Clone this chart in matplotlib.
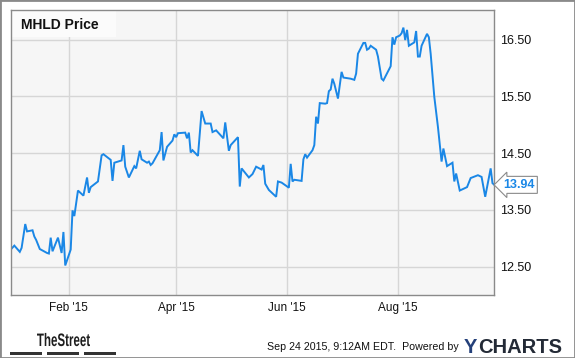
import numpy as np
import pandas as pd
import matplotlib
matplotlib.use("Agg")
import matplotlib.pyplot as plt
import matplotlib.dates as mdates
from matplotlib.patches import Rectangle, PathPatch
from matplotlib.textpath import TextPath
from matplotlib.font_manager import FontProperties
from matplotlib.transforms import Affine2D, IdentityTransform

plt.rcParams['font.family'] = ['Liberation Sans', 'DejaVu Sans']

# MHLD daily close
dates = [
    "2014-12-31", "2015-01-02", "2015-01-05", "2015-01-06", "2015-01-08", "2015-01-09",
    "2015-01-12", "2015-01-13", "2015-01-14", "2015-01-16", "2015-01-20", "2015-01-21",
    "2015-01-22", "2015-01-23", "2015-01-26", "2015-01-28", "2015-01-29", "2015-01-30",
    "2015-02-02", "2015-02-03", "2015-02-04", "2015-02-06", "2015-02-09", "2015-02-11",
    "2015-02-12", "2015-02-13", "2015-02-17", "2015-02-19", "2015-02-20", "2015-02-24",
    "2015-02-25", "2015-02-26", "2015-03-02", "2015-03-03", "2015-03-04", "2015-03-06",
    "2015-03-09", "2015-03-10", "2015-03-12", "2015-03-13", "2015-03-16", "2015-03-17",
    "2015-03-18", "2015-03-19", "2015-03-23", "2015-03-24", "2015-03-25", "2015-03-27",
    "2015-03-30", "2015-03-31", "2015-04-01", "2015-04-02", "2015-04-06", "2015-04-07",
    "2015-04-08", "2015-04-09", "2015-04-10", "2015-04-13", "2015-04-15", "2015-04-17",
    "2015-04-20", "2015-04-21", "2015-04-23", "2015-04-27", "2015-04-28", "2015-04-30",
    "2015-05-01", "2015-05-05", "2015-05-06", "2015-05-07", "2015-05-11", "2015-05-13",
    "2015-05-15", "2015-05-18", "2015-05-19", "2015-05-20", "2015-05-22", "2015-05-26",
    "2015-05-27", "2015-05-29", "2015-06-02", "2015-06-03", "2015-06-04", "2015-06-05",
    "2015-06-09", "2015-06-10", "2015-06-11", "2015-06-12", "2015-06-15", "2015-06-16",
    "2015-06-17", "2015-06-18", "2015-06-19", "2015-06-22", "2015-06-23", "2015-06-24",
    "2015-06-25", "2015-06-26", "2015-06-27", "2015-06-29", "2015-07-01", "2015-07-02",
    "2015-07-06", "2015-07-08", "2015-07-09", "2015-07-10", "2015-07-13", "2015-07-14",
    "2015-07-15", "2015-07-16", "2015-07-17", "2015-07-20", "2015-07-21", "2015-07-23",
    "2015-07-24", "2015-07-27", "2015-07-28", "2015-07-29", "2015-07-30", "2015-07-31",
    "2015-08-02", "2015-08-03", "2015-08-04", "2015-08-05", "2015-08-06", "2015-08-07",
    "2015-08-10", "2015-08-11", "2015-08-12", "2015-08-13", "2015-08-14", "2015-08-17",
    "2015-08-18", "2015-08-19", "2015-08-21", "2015-08-23", "2015-08-25", "2015-08-26",
    "2015-08-28", "2015-08-31", "2015-09-01", "2015-09-02", "2015-09-04", "2015-09-08",
    "2015-09-10", "2015-09-14", "2015-09-16", "2015-09-18", "2015-09-21", "2015-09-22",
    "2015-09-23",
]
prices = [
    12.80, 12.87, 12.76, 12.83, 13.25, 13.12,
    13.14, 13.03, 12.97, 12.81, 12.74, 12.73,
    13.01, 12.77, 13.01, 12.74, 13.11, 12.52,
    12.80, 13.49, 13.39, 13.84, 13.75, 14.07,
    13.80, 13.90, 14.00, 14.46, 14.48, 14.38,
    14.01, 14.33, 14.37, 14.64, 14.26, 14.07,
    14.27, 14.23, 14.54, 14.39, 14.33, 14.35,
    14.29, 14.32, 14.55, 14.87, 14.37, 14.61,
    14.72, 14.83, 14.78, 14.85, 14.86, 14.76,
    14.86, 14.51, 14.55, 14.45, 15.24, 15.02,
    15.02, 14.87, 14.90, 14.76, 15.04, 14.54,
    14.64, 14.78, 13.91, 14.23, 14.07, 14.13,
    14.26, 14.21, 14.29, 13.96, 13.85, 13.73,
    14.00, 13.98, 13.89, 14.31, 14.00, 14.03,
    14.01, 14.39, 14.48, 14.42, 14.55, 14.64,
    15.14, 15.02, 15.38, 15.37, 15.38, 15.59,
    15.62, 15.81, 15.72, 15.46, 15.93, 15.83,
    15.81, 15.79, 15.90, 16.25, 16.44, 16.44,
    16.32, 16.34, 16.39, 16.32, 16.20, 15.81,
    15.78, 15.97, 16.03, 16.54, 16.41, 16.54,
    16.57, 16.61, 16.71, 16.49, 16.67, 16.39,
    16.45, 16.65, 16.20, 16.20, 16.39, 16.60,
    16.54, 16.25, 15.49, 14.96, 14.35, 14.58,
    14.27, 14.33, 14.00, 14.14, 13.84, 13.90,
    14.06, 14.11, 14.08, 13.73, 14.23, 13.97,
    13.94,
]
yticks = [12.5, 13.5, 14.5, 15.5, 16.5]
xticks = ["2015-02-01", "2015-04-01", "2015-06-01", "2015-08-01"]

x = pd.to_datetime(dates)
blue = '#1a87e6'

fig = plt.figure(figsize=(5.75, 3.58), dpi=100)
fig.patch.set_facecolor('white')
ax = fig.add_axes([10.7/575, 1-295/358, (494.3-10.7)/575, (295-10)/358])
ax.set_facecolor('#f6f6f6')

ax.plot(x, prices, color=blue, lw=1.4, solid_joinstyle='miter')

ax.set_xlim(x[0], x[-1])
ax.set_ylim(12.0, 17.02)
ax.set_yticks(yticks)
ax.yaxis.set_major_formatter(plt.FormatStrFormatter('%.2f'))
ax.yaxis.tick_right()
ax.set_xticks(pd.to_datetime(xticks))
ax.xaxis.set_major_formatter(mdates.DateFormatter("%b '%y"))
ax.tick_params(axis='y', length=0, pad=3.8, labelsize=9, labelcolor='#111111')
ax.tick_params(axis='x', length=0, pad=5, labelsize=8.5, labelcolor='#111111')
ax.grid(True, color='#d6d6d6', lw=1)
ax.set_axisbelow(True)
for s in ax.spines.values():
    s.set_color('#8a8a8a')
    s.set_linewidth(1)

# title box in the upper left corner
ax.add_patch(Rectangle((0, 1), 105/483.6, -27/285, transform=ax.transAxes,
                       facecolor='#fbfbfb', edgecolor='none', zorder=1))
fig.text(21/575, 1-29/358, "MHLD Price", fontsize=10, fontweight='bold',
         color='#111111', va='baseline', ha='left')

# last value tag
ax.annotate("%.2f" % prices[-1], xy=(x[-1], prices[-1]), xytext=(6.5, 0),
            textcoords='offset points', ha='left', va='center', fontsize=9,
            fontweight='bold', color=blue, annotation_clip=False,
            bbox=dict(boxstyle='larrow,pad=0.2', fc='white', ec='#8a8a8a', lw=0.8))

# footer: condensed "TheStreet" logo drawn as a squeezed text path
tp = TextPath((0, 0), "TheStreet", size=1,
              prop=FontProperties(family='Liberation Sans', weight='bold'))
ext = tp.get_extents()
sx = 53 / ext.width
sy = 13 / 0.72
tr = Affine2D().translate(-ext.x0, 0).scale(sx, sy).translate(37, 358 - 346)
fig.patches.append(PathPatch(tp, transform=tr + IdentityTransform(),
                             facecolor='#1e1e1e', edgecolor='none'))
for bx in [10, 47, 84]:
    fig.patches.append(Rectangle((bx/575, 1-355/358), 32/575, 3.5/358,
                                 transform=fig.transFigure, facecolor='#333333',
                                 edgecolor='none'))
fig.text(267/575, 1-347/358, "Sep 24 2015, 9:12AM EDT.  Powered by", fontsize=7.7,
         color='#111111', ha='left', va='center')
fig.text(464/575, 1-353/358, "Y", fontsize=14.5, fontweight='bold', color='#24407a',
         ha='left', va='baseline')
fig.text(478/575, 1-353/358, "CHARTS", fontsize=14.5, fontweight='bold', color='#232a36',
         ha='left', va='baseline')

fig.patches.append(Rectangle((0, 0), 1, 1, transform=fig.transFigure, fill=False,
                             edgecolor='#8a8a8a', lw=2))

fig.savefig("out.png", dpi=100)
